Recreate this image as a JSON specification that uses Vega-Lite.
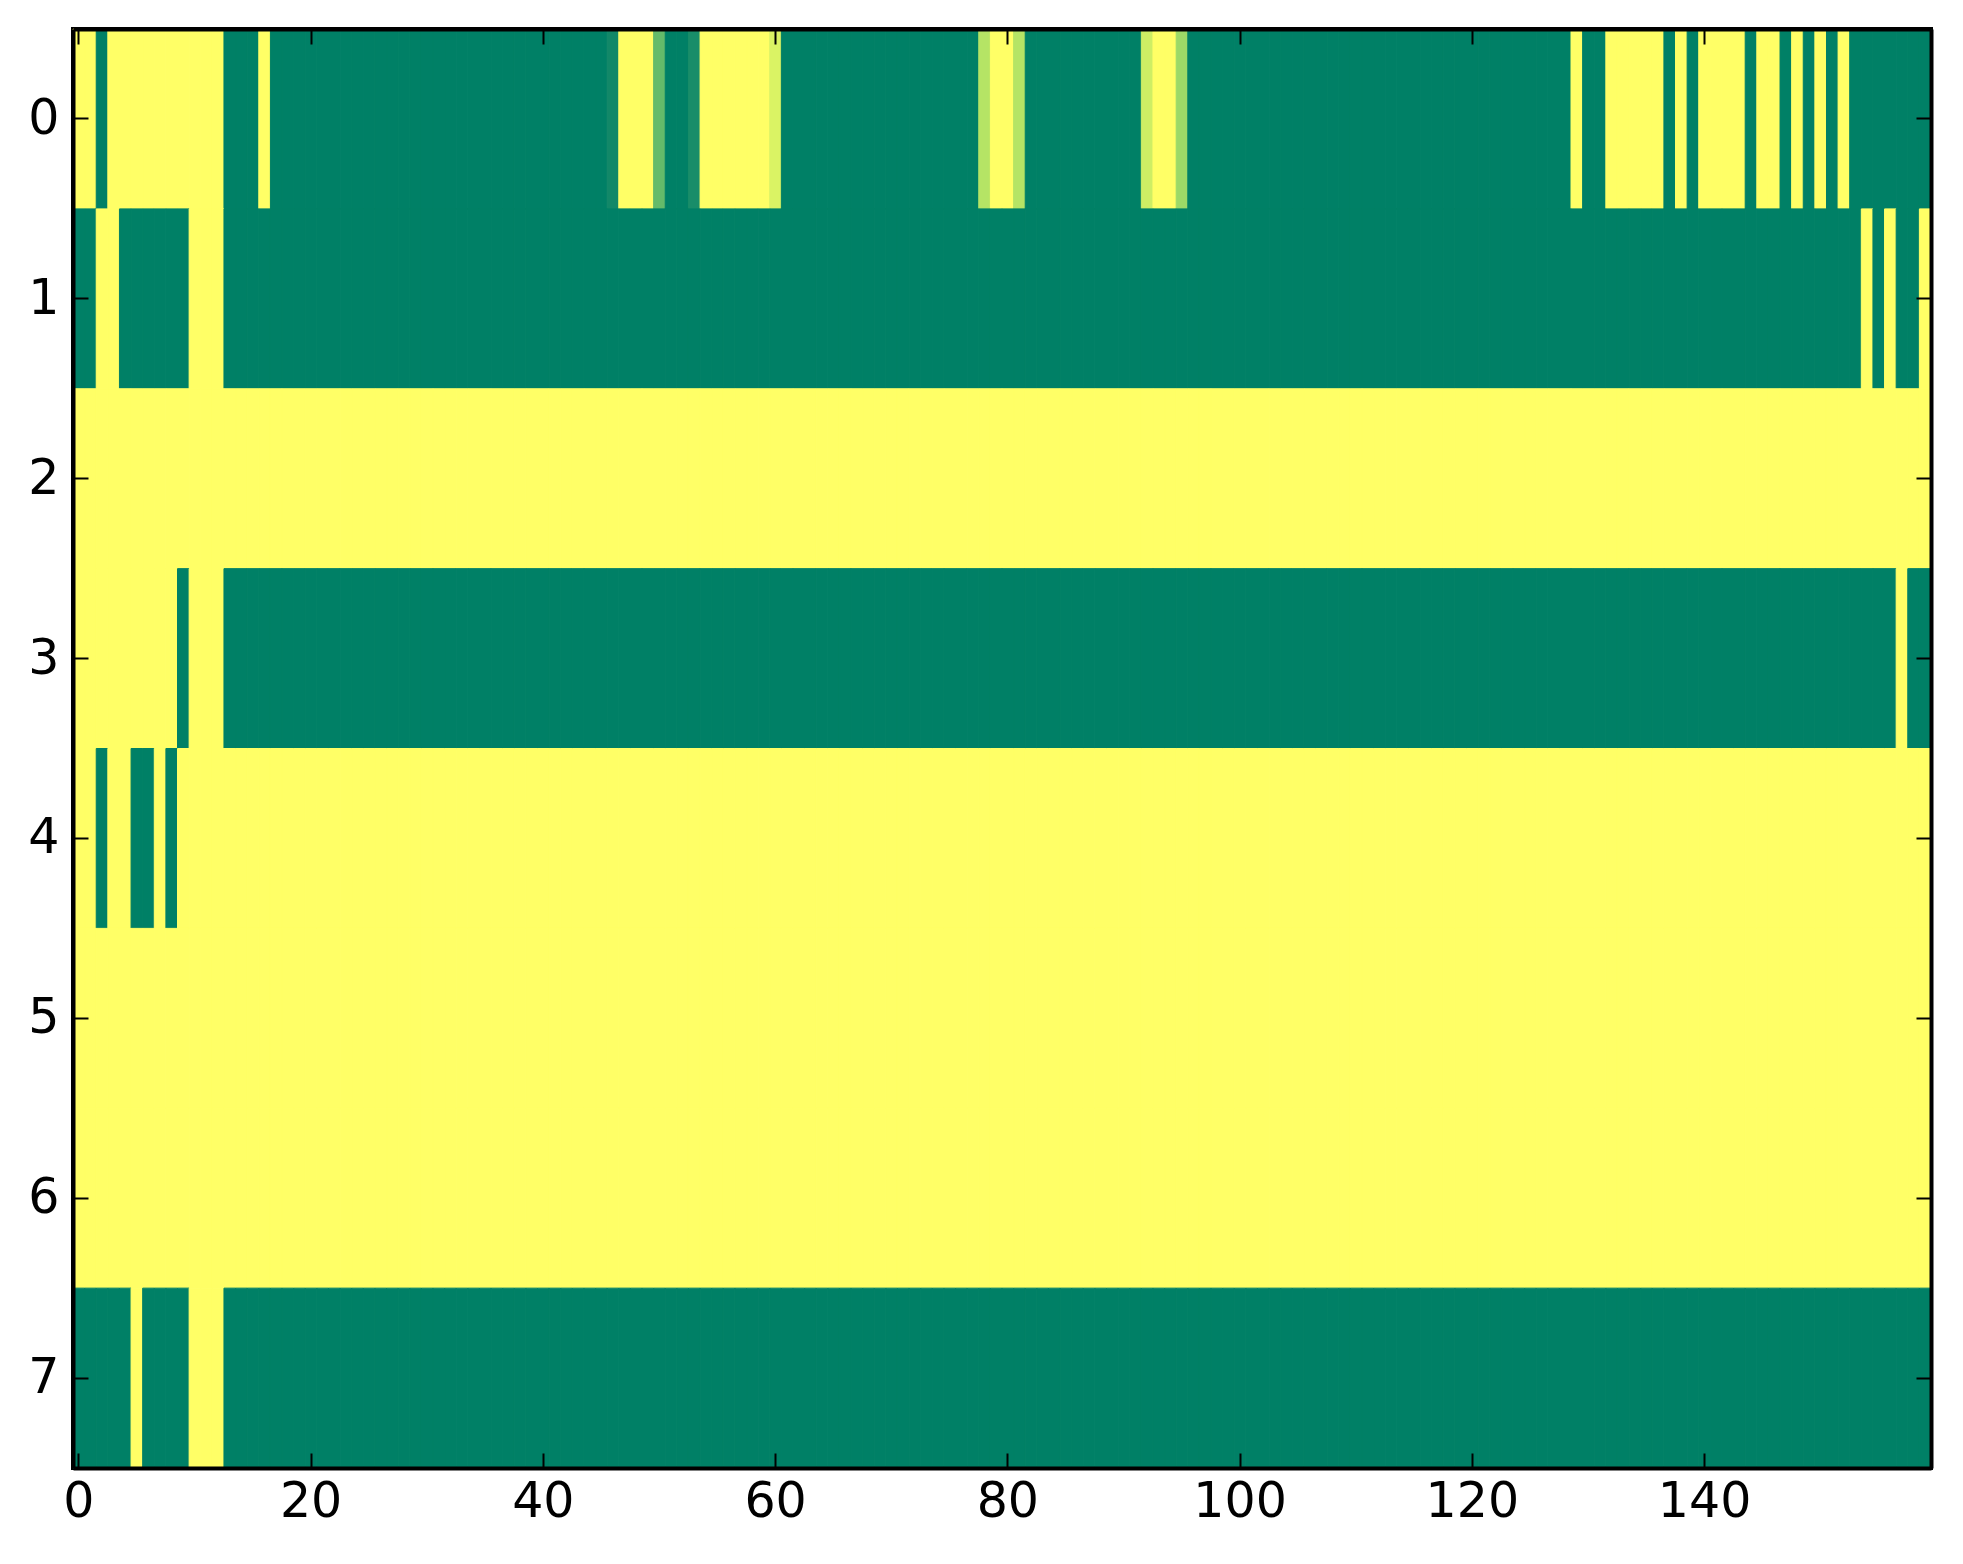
{
  "$schema": "https://vega.github.io/schema/vega-lite/v6.json",
  "width": 1858,
  "height": 1439,
  "autosize": {"type": "none"},
  "padding": {"left": 73, "top": 29, "right": 32, "bottom": 96},
  "background": "white",
  "config": {
    "view": {"stroke": "#000", "strokeWidth": 4},
    "font": "DejaVu Sans",
    "axis": {"labelFont": "DejaVu Sans", "labelFontSize": 49, "labelColor": "#000", "tickColor": "#000", "tickWidth": 2, "tickSize": -15, "domain": true, "domainColor": "#000", "domainWidth": 4, "grid": false, "title": null}
  },
  "data": {"values": [
{"r":0,"c":0,"v":1},{"r":0,"c":1,"v":1},{"r":0,"c":2,"v":0},{"r":0,"c":3,"v":1},{"r":0,"c":4,"v":1},{"r":0,"c":5,"v":1},{"r":0,"c":6,"v":1},{"r":0,"c":7,"v":1},{"r":0,"c":8,"v":1},{"r":0,"c":9,"v":1},
{"r":0,"c":10,"v":1},{"r":0,"c":11,"v":1},{"r":0,"c":12,"v":1},{"r":0,"c":13,"v":0},{"r":0,"c":14,"v":0},{"r":0,"c":15,"v":0},{"r":0,"c":16,"v":1},{"r":0,"c":17,"v":0},{"r":0,"c":18,"v":0},{"r":0,"c":19,"v":0},
{"r":0,"c":20,"v":0},{"r":0,"c":21,"v":0},{"r":0,"c":22,"v":0},{"r":0,"c":23,"v":0},{"r":0,"c":24,"v":0},{"r":0,"c":25,"v":0},{"r":0,"c":26,"v":0},{"r":0,"c":27,"v":0},{"r":0,"c":28,"v":0},{"r":0,"c":29,"v":0},
{"r":0,"c":30,"v":0},{"r":0,"c":31,"v":0},{"r":0,"c":32,"v":0},{"r":0,"c":33,"v":0},{"r":0,"c":34,"v":0},{"r":0,"c":35,"v":0},{"r":0,"c":36,"v":0},{"r":0,"c":37,"v":0},{"r":0,"c":38,"v":0},{"r":0,"c":39,"v":0},
{"r":0,"c":40,"v":0},{"r":0,"c":41,"v":0},{"r":0,"c":42,"v":0},{"r":0,"c":43,"v":0},{"r":0,"c":44,"v":0},{"r":0,"c":45,"v":0},{"r":0,"c":46,"v":0.06},{"r":0,"c":47,"v":1},{"r":0,"c":48,"v":1},{"r":0,"c":49,"v":1},
{"r":0,"c":50,"v":0.43},{"r":0,"c":51,"v":0},{"r":0,"c":52,"v":0},{"r":0,"c":53,"v":0.09},{"r":0,"c":54,"v":1},{"r":0,"c":55,"v":1},{"r":0,"c":56,"v":1},{"r":0,"c":57,"v":1},{"r":0,"c":58,"v":1},{"r":0,"c":59,"v":1},
{"r":0,"c":60,"v":0.88},{"r":0,"c":61,"v":0},{"r":0,"c":62,"v":0},{"r":0,"c":63,"v":0},{"r":0,"c":64,"v":0},{"r":0,"c":65,"v":0},{"r":0,"c":66,"v":0},{"r":0,"c":67,"v":0},{"r":0,"c":68,"v":0},{"r":0,"c":69,"v":0},
{"r":0,"c":70,"v":0},{"r":0,"c":71,"v":0},{"r":0,"c":72,"v":0},{"r":0,"c":73,"v":0},{"r":0,"c":74,"v":0},{"r":0,"c":75,"v":0},{"r":0,"c":76,"v":0},{"r":0,"c":77,"v":0},{"r":0,"c":78,"v":0.75},{"r":0,"c":79,"v":1},
{"r":0,"c":80,"v":1},{"r":0,"c":81,"v":0.75},{"r":0,"c":82,"v":0},{"r":0,"c":83,"v":0},{"r":0,"c":84,"v":0},{"r":0,"c":85,"v":0},{"r":0,"c":86,"v":0},{"r":0,"c":87,"v":0},{"r":0,"c":88,"v":0},{"r":0,"c":89,"v":0},
{"r":0,"c":90,"v":0},{"r":0,"c":91,"v":0},{"r":0,"c":92,"v":0.84},{"r":0,"c":93,"v":1},{"r":0,"c":94,"v":1},{"r":0,"c":95,"v":0.66},{"r":0,"c":96,"v":0},{"r":0,"c":97,"v":0},{"r":0,"c":98,"v":0},{"r":0,"c":99,"v":0},
{"r":0,"c":100,"v":0},{"r":0,"c":101,"v":0},{"r":0,"c":102,"v":0},{"r":0,"c":103,"v":0},{"r":0,"c":104,"v":0},{"r":0,"c":105,"v":0},{"r":0,"c":106,"v":0},{"r":0,"c":107,"v":0},{"r":0,"c":108,"v":0},{"r":0,"c":109,"v":0},
{"r":0,"c":110,"v":0},{"r":0,"c":111,"v":0},{"r":0,"c":112,"v":0},{"r":0,"c":113,"v":0},{"r":0,"c":114,"v":0},{"r":0,"c":115,"v":0},{"r":0,"c":116,"v":0},{"r":0,"c":117,"v":0},{"r":0,"c":118,"v":0},{"r":0,"c":119,"v":0},
{"r":0,"c":120,"v":0},{"r":0,"c":121,"v":0},{"r":0,"c":122,"v":0},{"r":0,"c":123,"v":0},{"r":0,"c":124,"v":0},{"r":0,"c":125,"v":0},{"r":0,"c":126,"v":0},{"r":0,"c":127,"v":0},{"r":0,"c":128,"v":0},{"r":0,"c":129,"v":1},
{"r":0,"c":130,"v":0},{"r":0,"c":131,"v":0},{"r":0,"c":132,"v":1},{"r":0,"c":133,"v":1},{"r":0,"c":134,"v":1},{"r":0,"c":135,"v":1},{"r":0,"c":136,"v":1},{"r":0,"c":137,"v":0},{"r":0,"c":138,"v":1},{"r":0,"c":139,"v":0},
{"r":0,"c":140,"v":1},{"r":0,"c":141,"v":1},{"r":0,"c":142,"v":1},{"r":0,"c":143,"v":1},{"r":0,"c":144,"v":0},{"r":0,"c":145,"v":1},{"r":0,"c":146,"v":1},{"r":0,"c":147,"v":0},{"r":0,"c":148,"v":1},{"r":0,"c":149,"v":0},
{"r":0,"c":150,"v":1},{"r":0,"c":151,"v":0},{"r":0,"c":152,"v":1},{"r":0,"c":153,"v":0},{"r":0,"c":154,"v":0},{"r":0,"c":155,"v":0},{"r":0,"c":156,"v":0},{"r":0,"c":157,"v":0},{"r":0,"c":158,"v":0},{"r":0,"c":159,"v":0},
{"r":1,"c":0,"v":0},{"r":1,"c":1,"v":0},{"r":1,"c":2,"v":1},{"r":1,"c":3,"v":1},{"r":1,"c":4,"v":0},{"r":1,"c":5,"v":0},{"r":1,"c":6,"v":0},{"r":1,"c":7,"v":0},{"r":1,"c":8,"v":0},{"r":1,"c":9,"v":0},
{"r":1,"c":10,"v":1},{"r":1,"c":11,"v":1},{"r":1,"c":12,"v":1},{"r":1,"c":13,"v":0},{"r":1,"c":14,"v":0},{"r":1,"c":15,"v":0},{"r":1,"c":16,"v":0},{"r":1,"c":17,"v":0},{"r":1,"c":18,"v":0},{"r":1,"c":19,"v":0},
{"r":1,"c":20,"v":0},{"r":1,"c":21,"v":0},{"r":1,"c":22,"v":0},{"r":1,"c":23,"v":0},{"r":1,"c":24,"v":0},{"r":1,"c":25,"v":0},{"r":1,"c":26,"v":0},{"r":1,"c":27,"v":0},{"r":1,"c":28,"v":0},{"r":1,"c":29,"v":0},
{"r":1,"c":30,"v":0},{"r":1,"c":31,"v":0},{"r":1,"c":32,"v":0},{"r":1,"c":33,"v":0},{"r":1,"c":34,"v":0},{"r":1,"c":35,"v":0},{"r":1,"c":36,"v":0},{"r":1,"c":37,"v":0},{"r":1,"c":38,"v":0},{"r":1,"c":39,"v":0},
{"r":1,"c":40,"v":0},{"r":1,"c":41,"v":0},{"r":1,"c":42,"v":0},{"r":1,"c":43,"v":0},{"r":1,"c":44,"v":0},{"r":1,"c":45,"v":0},{"r":1,"c":46,"v":0},{"r":1,"c":47,"v":0},{"r":1,"c":48,"v":0},{"r":1,"c":49,"v":0},
{"r":1,"c":50,"v":0},{"r":1,"c":51,"v":0},{"r":1,"c":52,"v":0},{"r":1,"c":53,"v":0},{"r":1,"c":54,"v":0},{"r":1,"c":55,"v":0},{"r":1,"c":56,"v":0},{"r":1,"c":57,"v":0},{"r":1,"c":58,"v":0},{"r":1,"c":59,"v":0},
{"r":1,"c":60,"v":0},{"r":1,"c":61,"v":0},{"r":1,"c":62,"v":0},{"r":1,"c":63,"v":0},{"r":1,"c":64,"v":0},{"r":1,"c":65,"v":0},{"r":1,"c":66,"v":0},{"r":1,"c":67,"v":0},{"r":1,"c":68,"v":0},{"r":1,"c":69,"v":0},
{"r":1,"c":70,"v":0},{"r":1,"c":71,"v":0},{"r":1,"c":72,"v":0},{"r":1,"c":73,"v":0},{"r":1,"c":74,"v":0},{"r":1,"c":75,"v":0},{"r":1,"c":76,"v":0},{"r":1,"c":77,"v":0},{"r":1,"c":78,"v":0},{"r":1,"c":79,"v":0},
{"r":1,"c":80,"v":0},{"r":1,"c":81,"v":0},{"r":1,"c":82,"v":0},{"r":1,"c":83,"v":0},{"r":1,"c":84,"v":0},{"r":1,"c":85,"v":0},{"r":1,"c":86,"v":0},{"r":1,"c":87,"v":0},{"r":1,"c":88,"v":0},{"r":1,"c":89,"v":0},
{"r":1,"c":90,"v":0},{"r":1,"c":91,"v":0},{"r":1,"c":92,"v":0},{"r":1,"c":93,"v":0},{"r":1,"c":94,"v":0},{"r":1,"c":95,"v":0},{"r":1,"c":96,"v":0},{"r":1,"c":97,"v":0},{"r":1,"c":98,"v":0},{"r":1,"c":99,"v":0},
{"r":1,"c":100,"v":0},{"r":1,"c":101,"v":0},{"r":1,"c":102,"v":0},{"r":1,"c":103,"v":0},{"r":1,"c":104,"v":0},{"r":1,"c":105,"v":0},{"r":1,"c":106,"v":0},{"r":1,"c":107,"v":0},{"r":1,"c":108,"v":0},{"r":1,"c":109,"v":0},
{"r":1,"c":110,"v":0},{"r":1,"c":111,"v":0},{"r":1,"c":112,"v":0},{"r":1,"c":113,"v":0},{"r":1,"c":114,"v":0},{"r":1,"c":115,"v":0},{"r":1,"c":116,"v":0},{"r":1,"c":117,"v":0},{"r":1,"c":118,"v":0},{"r":1,"c":119,"v":0},
{"r":1,"c":120,"v":0},{"r":1,"c":121,"v":0},{"r":1,"c":122,"v":0},{"r":1,"c":123,"v":0},{"r":1,"c":124,"v":0},{"r":1,"c":125,"v":0},{"r":1,"c":126,"v":0},{"r":1,"c":127,"v":0},{"r":1,"c":128,"v":0},{"r":1,"c":129,"v":0},
{"r":1,"c":130,"v":0},{"r":1,"c":131,"v":0},{"r":1,"c":132,"v":0},{"r":1,"c":133,"v":0},{"r":1,"c":134,"v":0},{"r":1,"c":135,"v":0},{"r":1,"c":136,"v":0},{"r":1,"c":137,"v":0},{"r":1,"c":138,"v":0},{"r":1,"c":139,"v":0},
{"r":1,"c":140,"v":0},{"r":1,"c":141,"v":0},{"r":1,"c":142,"v":0},{"r":1,"c":143,"v":0},{"r":1,"c":144,"v":0},{"r":1,"c":145,"v":0},{"r":1,"c":146,"v":0},{"r":1,"c":147,"v":0},{"r":1,"c":148,"v":0},{"r":1,"c":149,"v":0},
{"r":1,"c":150,"v":0},{"r":1,"c":151,"v":0},{"r":1,"c":152,"v":0},{"r":1,"c":153,"v":0},{"r":1,"c":154,"v":1},{"r":1,"c":155,"v":0},{"r":1,"c":156,"v":1},{"r":1,"c":157,"v":0},{"r":1,"c":158,"v":0},{"r":1,"c":159,"v":1},
{"r":2,"c":0,"v":1},{"r":2,"c":1,"v":1},{"r":2,"c":2,"v":1},{"r":2,"c":3,"v":1},{"r":2,"c":4,"v":1},{"r":2,"c":5,"v":1},{"r":2,"c":6,"v":1},{"r":2,"c":7,"v":1},{"r":2,"c":8,"v":1},{"r":2,"c":9,"v":1},
{"r":2,"c":10,"v":1},{"r":2,"c":11,"v":1},{"r":2,"c":12,"v":1},{"r":2,"c":13,"v":1},{"r":2,"c":14,"v":1},{"r":2,"c":15,"v":1},{"r":2,"c":16,"v":1},{"r":2,"c":17,"v":1},{"r":2,"c":18,"v":1},{"r":2,"c":19,"v":1},
{"r":2,"c":20,"v":1},{"r":2,"c":21,"v":1},{"r":2,"c":22,"v":1},{"r":2,"c":23,"v":1},{"r":2,"c":24,"v":1},{"r":2,"c":25,"v":1},{"r":2,"c":26,"v":1},{"r":2,"c":27,"v":1},{"r":2,"c":28,"v":1},{"r":2,"c":29,"v":1},
{"r":2,"c":30,"v":1},{"r":2,"c":31,"v":1},{"r":2,"c":32,"v":1},{"r":2,"c":33,"v":1},{"r":2,"c":34,"v":1},{"r":2,"c":35,"v":1},{"r":2,"c":36,"v":1},{"r":2,"c":37,"v":1},{"r":2,"c":38,"v":1},{"r":2,"c":39,"v":1},
{"r":2,"c":40,"v":1},{"r":2,"c":41,"v":1},{"r":2,"c":42,"v":1},{"r":2,"c":43,"v":1},{"r":2,"c":44,"v":1},{"r":2,"c":45,"v":1},{"r":2,"c":46,"v":1},{"r":2,"c":47,"v":1},{"r":2,"c":48,"v":1},{"r":2,"c":49,"v":1},
{"r":2,"c":50,"v":1},{"r":2,"c":51,"v":1},{"r":2,"c":52,"v":1},{"r":2,"c":53,"v":1},{"r":2,"c":54,"v":1},{"r":2,"c":55,"v":1},{"r":2,"c":56,"v":1},{"r":2,"c":57,"v":1},{"r":2,"c":58,"v":1},{"r":2,"c":59,"v":1},
{"r":2,"c":60,"v":1},{"r":2,"c":61,"v":1},{"r":2,"c":62,"v":1},{"r":2,"c":63,"v":1},{"r":2,"c":64,"v":1},{"r":2,"c":65,"v":1},{"r":2,"c":66,"v":1},{"r":2,"c":67,"v":1},{"r":2,"c":68,"v":1},{"r":2,"c":69,"v":1},
{"r":2,"c":70,"v":1},{"r":2,"c":71,"v":1},{"r":2,"c":72,"v":1},{"r":2,"c":73,"v":1},{"r":2,"c":74,"v":1},{"r":2,"c":75,"v":1},{"r":2,"c":76,"v":1},{"r":2,"c":77,"v":1},{"r":2,"c":78,"v":1},{"r":2,"c":79,"v":1},
{"r":2,"c":80,"v":1},{"r":2,"c":81,"v":1},{"r":2,"c":82,"v":1},{"r":2,"c":83,"v":1},{"r":2,"c":84,"v":1},{"r":2,"c":85,"v":1},{"r":2,"c":86,"v":1},{"r":2,"c":87,"v":1},{"r":2,"c":88,"v":1},{"r":2,"c":89,"v":1},
{"r":2,"c":90,"v":1},{"r":2,"c":91,"v":1},{"r":2,"c":92,"v":1},{"r":2,"c":93,"v":1},{"r":2,"c":94,"v":1},{"r":2,"c":95,"v":1},{"r":2,"c":96,"v":1},{"r":2,"c":97,"v":1},{"r":2,"c":98,"v":1},{"r":2,"c":99,"v":1},
{"r":2,"c":100,"v":1},{"r":2,"c":101,"v":1},{"r":2,"c":102,"v":1},{"r":2,"c":103,"v":1},{"r":2,"c":104,"v":1},{"r":2,"c":105,"v":1},{"r":2,"c":106,"v":1},{"r":2,"c":107,"v":1},{"r":2,"c":108,"v":1},{"r":2,"c":109,"v":1},
{"r":2,"c":110,"v":1},{"r":2,"c":111,"v":1},{"r":2,"c":112,"v":1},{"r":2,"c":113,"v":1},{"r":2,"c":114,"v":1},{"r":2,"c":115,"v":1},{"r":2,"c":116,"v":1},{"r":2,"c":117,"v":1},{"r":2,"c":118,"v":1},{"r":2,"c":119,"v":1},
{"r":2,"c":120,"v":1},{"r":2,"c":121,"v":1},{"r":2,"c":122,"v":1},{"r":2,"c":123,"v":1},{"r":2,"c":124,"v":1},{"r":2,"c":125,"v":1},{"r":2,"c":126,"v":1},{"r":2,"c":127,"v":1},{"r":2,"c":128,"v":1},{"r":2,"c":129,"v":1},
{"r":2,"c":130,"v":1},{"r":2,"c":131,"v":1},{"r":2,"c":132,"v":1},{"r":2,"c":133,"v":1},{"r":2,"c":134,"v":1},{"r":2,"c":135,"v":1},{"r":2,"c":136,"v":1},{"r":2,"c":137,"v":1},{"r":2,"c":138,"v":1},{"r":2,"c":139,"v":1},
{"r":2,"c":140,"v":1},{"r":2,"c":141,"v":1},{"r":2,"c":142,"v":1},{"r":2,"c":143,"v":1},{"r":2,"c":144,"v":1},{"r":2,"c":145,"v":1},{"r":2,"c":146,"v":1},{"r":2,"c":147,"v":1},{"r":2,"c":148,"v":1},{"r":2,"c":149,"v":1},
{"r":2,"c":150,"v":1},{"r":2,"c":151,"v":1},{"r":2,"c":152,"v":1},{"r":2,"c":153,"v":1},{"r":2,"c":154,"v":1},{"r":2,"c":155,"v":1},{"r":2,"c":156,"v":1},{"r":2,"c":157,"v":1},{"r":2,"c":158,"v":1},{"r":2,"c":159,"v":1},
{"r":3,"c":0,"v":1},{"r":3,"c":1,"v":1},{"r":3,"c":2,"v":1},{"r":3,"c":3,"v":1},{"r":3,"c":4,"v":1},{"r":3,"c":5,"v":1},{"r":3,"c":6,"v":1},{"r":3,"c":7,"v":1},{"r":3,"c":8,"v":1},{"r":3,"c":9,"v":0},
{"r":3,"c":10,"v":1},{"r":3,"c":11,"v":1},{"r":3,"c":12,"v":1},{"r":3,"c":13,"v":0},{"r":3,"c":14,"v":0},{"r":3,"c":15,"v":0},{"r":3,"c":16,"v":0},{"r":3,"c":17,"v":0},{"r":3,"c":18,"v":0},{"r":3,"c":19,"v":0},
{"r":3,"c":20,"v":0},{"r":3,"c":21,"v":0},{"r":3,"c":22,"v":0},{"r":3,"c":23,"v":0},{"r":3,"c":24,"v":0},{"r":3,"c":25,"v":0},{"r":3,"c":26,"v":0},{"r":3,"c":27,"v":0},{"r":3,"c":28,"v":0},{"r":3,"c":29,"v":0},
{"r":3,"c":30,"v":0},{"r":3,"c":31,"v":0},{"r":3,"c":32,"v":0},{"r":3,"c":33,"v":0},{"r":3,"c":34,"v":0},{"r":3,"c":35,"v":0},{"r":3,"c":36,"v":0},{"r":3,"c":37,"v":0},{"r":3,"c":38,"v":0},{"r":3,"c":39,"v":0},
{"r":3,"c":40,"v":0},{"r":3,"c":41,"v":0},{"r":3,"c":42,"v":0},{"r":3,"c":43,"v":0},{"r":3,"c":44,"v":0},{"r":3,"c":45,"v":0},{"r":3,"c":46,"v":0},{"r":3,"c":47,"v":0},{"r":3,"c":48,"v":0},{"r":3,"c":49,"v":0},
{"r":3,"c":50,"v":0},{"r":3,"c":51,"v":0},{"r":3,"c":52,"v":0},{"r":3,"c":53,"v":0},{"r":3,"c":54,"v":0},{"r":3,"c":55,"v":0},{"r":3,"c":56,"v":0},{"r":3,"c":57,"v":0},{"r":3,"c":58,"v":0},{"r":3,"c":59,"v":0},
{"r":3,"c":60,"v":0},{"r":3,"c":61,"v":0},{"r":3,"c":62,"v":0},{"r":3,"c":63,"v":0},{"r":3,"c":64,"v":0},{"r":3,"c":65,"v":0},{"r":3,"c":66,"v":0},{"r":3,"c":67,"v":0},{"r":3,"c":68,"v":0},{"r":3,"c":69,"v":0},
{"r":3,"c":70,"v":0},{"r":3,"c":71,"v":0},{"r":3,"c":72,"v":0},{"r":3,"c":73,"v":0},{"r":3,"c":74,"v":0},{"r":3,"c":75,"v":0},{"r":3,"c":76,"v":0},{"r":3,"c":77,"v":0},{"r":3,"c":78,"v":0},{"r":3,"c":79,"v":0},
{"r":3,"c":80,"v":0},{"r":3,"c":81,"v":0},{"r":3,"c":82,"v":0},{"r":3,"c":83,"v":0},{"r":3,"c":84,"v":0},{"r":3,"c":85,"v":0},{"r":3,"c":86,"v":0},{"r":3,"c":87,"v":0},{"r":3,"c":88,"v":0},{"r":3,"c":89,"v":0},
{"r":3,"c":90,"v":0},{"r":3,"c":91,"v":0},{"r":3,"c":92,"v":0},{"r":3,"c":93,"v":0},{"r":3,"c":94,"v":0},{"r":3,"c":95,"v":0},{"r":3,"c":96,"v":0},{"r":3,"c":97,"v":0},{"r":3,"c":98,"v":0},{"r":3,"c":99,"v":0},
{"r":3,"c":100,"v":0},{"r":3,"c":101,"v":0},{"r":3,"c":102,"v":0},{"r":3,"c":103,"v":0},{"r":3,"c":104,"v":0},{"r":3,"c":105,"v":0},{"r":3,"c":106,"v":0},{"r":3,"c":107,"v":0},{"r":3,"c":108,"v":0},{"r":3,"c":109,"v":0},
{"r":3,"c":110,"v":0},{"r":3,"c":111,"v":0},{"r":3,"c":112,"v":0},{"r":3,"c":113,"v":0},{"r":3,"c":114,"v":0},{"r":3,"c":115,"v":0},{"r":3,"c":116,"v":0},{"r":3,"c":117,"v":0},{"r":3,"c":118,"v":0},{"r":3,"c":119,"v":0},
{"r":3,"c":120,"v":0},{"r":3,"c":121,"v":0},{"r":3,"c":122,"v":0},{"r":3,"c":123,"v":0},{"r":3,"c":124,"v":0},{"r":3,"c":125,"v":0},{"r":3,"c":126,"v":0},{"r":3,"c":127,"v":0},{"r":3,"c":128,"v":0},{"r":3,"c":129,"v":0},
{"r":3,"c":130,"v":0},{"r":3,"c":131,"v":0},{"r":3,"c":132,"v":0},{"r":3,"c":133,"v":0},{"r":3,"c":134,"v":0},{"r":3,"c":135,"v":0},{"r":3,"c":136,"v":0},{"r":3,"c":137,"v":0},{"r":3,"c":138,"v":0},{"r":3,"c":139,"v":0},
{"r":3,"c":140,"v":0},{"r":3,"c":141,"v":0},{"r":3,"c":142,"v":0},{"r":3,"c":143,"v":0},{"r":3,"c":144,"v":0},{"r":3,"c":145,"v":0},{"r":3,"c":146,"v":0},{"r":3,"c":147,"v":0},{"r":3,"c":148,"v":0},{"r":3,"c":149,"v":0},
{"r":3,"c":150,"v":0},{"r":3,"c":151,"v":0},{"r":3,"c":152,"v":0},{"r":3,"c":153,"v":0},{"r":3,"c":154,"v":0},{"r":3,"c":155,"v":0},{"r":3,"c":156,"v":0},{"r":3,"c":157,"v":1},{"r":3,"c":158,"v":0},{"r":3,"c":159,"v":0},
{"r":4,"c":0,"v":1},{"r":4,"c":1,"v":1},{"r":4,"c":2,"v":0},{"r":4,"c":3,"v":1},{"r":4,"c":4,"v":1},{"r":4,"c":5,"v":0},{"r":4,"c":6,"v":0},{"r":4,"c":7,"v":1},{"r":4,"c":8,"v":0},{"r":4,"c":9,"v":1},
{"r":4,"c":10,"v":1},{"r":4,"c":11,"v":1},{"r":4,"c":12,"v":1},{"r":4,"c":13,"v":1},{"r":4,"c":14,"v":1},{"r":4,"c":15,"v":1},{"r":4,"c":16,"v":1},{"r":4,"c":17,"v":1},{"r":4,"c":18,"v":1},{"r":4,"c":19,"v":1},
{"r":4,"c":20,"v":1},{"r":4,"c":21,"v":1},{"r":4,"c":22,"v":1},{"r":4,"c":23,"v":1},{"r":4,"c":24,"v":1},{"r":4,"c":25,"v":1},{"r":4,"c":26,"v":1},{"r":4,"c":27,"v":1},{"r":4,"c":28,"v":1},{"r":4,"c":29,"v":1},
{"r":4,"c":30,"v":1},{"r":4,"c":31,"v":1},{"r":4,"c":32,"v":1},{"r":4,"c":33,"v":1},{"r":4,"c":34,"v":1},{"r":4,"c":35,"v":1},{"r":4,"c":36,"v":1},{"r":4,"c":37,"v":1},{"r":4,"c":38,"v":1},{"r":4,"c":39,"v":1},
{"r":4,"c":40,"v":1},{"r":4,"c":41,"v":1},{"r":4,"c":42,"v":1},{"r":4,"c":43,"v":1},{"r":4,"c":44,"v":1},{"r":4,"c":45,"v":1},{"r":4,"c":46,"v":1},{"r":4,"c":47,"v":1},{"r":4,"c":48,"v":1},{"r":4,"c":49,"v":1},
{"r":4,"c":50,"v":1},{"r":4,"c":51,"v":1},{"r":4,"c":52,"v":1},{"r":4,"c":53,"v":1},{"r":4,"c":54,"v":1},{"r":4,"c":55,"v":1},{"r":4,"c":56,"v":1},{"r":4,"c":57,"v":1},{"r":4,"c":58,"v":1},{"r":4,"c":59,"v":1},
{"r":4,"c":60,"v":1},{"r":4,"c":61,"v":1},{"r":4,"c":62,"v":1},{"r":4,"c":63,"v":1},{"r":4,"c":64,"v":1},{"r":4,"c":65,"v":1},{"r":4,"c":66,"v":1},{"r":4,"c":67,"v":1},{"r":4,"c":68,"v":1},{"r":4,"c":69,"v":1},
{"r":4,"c":70,"v":1},{"r":4,"c":71,"v":1},{"r":4,"c":72,"v":1},{"r":4,"c":73,"v":1},{"r":4,"c":74,"v":1},{"r":4,"c":75,"v":1},{"r":4,"c":76,"v":1},{"r":4,"c":77,"v":1},{"r":4,"c":78,"v":1},{"r":4,"c":79,"v":1},
{"r":4,"c":80,"v":1},{"r":4,"c":81,"v":1},{"r":4,"c":82,"v":1},{"r":4,"c":83,"v":1},{"r":4,"c":84,"v":1},{"r":4,"c":85,"v":1},{"r":4,"c":86,"v":1},{"r":4,"c":87,"v":1},{"r":4,"c":88,"v":1},{"r":4,"c":89,"v":1},
{"r":4,"c":90,"v":1},{"r":4,"c":91,"v":1},{"r":4,"c":92,"v":1},{"r":4,"c":93,"v":1},{"r":4,"c":94,"v":1},{"r":4,"c":95,"v":1},{"r":4,"c":96,"v":1},{"r":4,"c":97,"v":1},{"r":4,"c":98,"v":1},{"r":4,"c":99,"v":1},
{"r":4,"c":100,"v":1},{"r":4,"c":101,"v":1},{"r":4,"c":102,"v":1},{"r":4,"c":103,"v":1},{"r":4,"c":104,"v":1},{"r":4,"c":105,"v":1},{"r":4,"c":106,"v":1},{"r":4,"c":107,"v":1},{"r":4,"c":108,"v":1},{"r":4,"c":109,"v":1},
{"r":4,"c":110,"v":1},{"r":4,"c":111,"v":1},{"r":4,"c":112,"v":1},{"r":4,"c":113,"v":1},{"r":4,"c":114,"v":1},{"r":4,"c":115,"v":1},{"r":4,"c":116,"v":1},{"r":4,"c":117,"v":1},{"r":4,"c":118,"v":1},{"r":4,"c":119,"v":1},
{"r":4,"c":120,"v":1},{"r":4,"c":121,"v":1},{"r":4,"c":122,"v":1},{"r":4,"c":123,"v":1},{"r":4,"c":124,"v":1},{"r":4,"c":125,"v":1},{"r":4,"c":126,"v":1},{"r":4,"c":127,"v":1},{"r":4,"c":128,"v":1},{"r":4,"c":129,"v":1},
{"r":4,"c":130,"v":1},{"r":4,"c":131,"v":1},{"r":4,"c":132,"v":1},{"r":4,"c":133,"v":1},{"r":4,"c":134,"v":1},{"r":4,"c":135,"v":1},{"r":4,"c":136,"v":1},{"r":4,"c":137,"v":1},{"r":4,"c":138,"v":1},{"r":4,"c":139,"v":1},
{"r":4,"c":140,"v":1},{"r":4,"c":141,"v":1},{"r":4,"c":142,"v":1},{"r":4,"c":143,"v":1},{"r":4,"c":144,"v":1},{"r":4,"c":145,"v":1},{"r":4,"c":146,"v":1},{"r":4,"c":147,"v":1},{"r":4,"c":148,"v":1},{"r":4,"c":149,"v":1},
{"r":4,"c":150,"v":1},{"r":4,"c":151,"v":1},{"r":4,"c":152,"v":1},{"r":4,"c":153,"v":1},{"r":4,"c":154,"v":1},{"r":4,"c":155,"v":1},{"r":4,"c":156,"v":1},{"r":4,"c":157,"v":1},{"r":4,"c":158,"v":1},{"r":4,"c":159,"v":1},
{"r":5,"c":0,"v":1},{"r":5,"c":1,"v":1},{"r":5,"c":2,"v":1},{"r":5,"c":3,"v":1},{"r":5,"c":4,"v":1},{"r":5,"c":5,"v":1},{"r":5,"c":6,"v":1},{"r":5,"c":7,"v":1},{"r":5,"c":8,"v":1},{"r":5,"c":9,"v":1},
{"r":5,"c":10,"v":1},{"r":5,"c":11,"v":1},{"r":5,"c":12,"v":1},{"r":5,"c":13,"v":1},{"r":5,"c":14,"v":1},{"r":5,"c":15,"v":1},{"r":5,"c":16,"v":1},{"r":5,"c":17,"v":1},{"r":5,"c":18,"v":1},{"r":5,"c":19,"v":1},
{"r":5,"c":20,"v":1},{"r":5,"c":21,"v":1},{"r":5,"c":22,"v":1},{"r":5,"c":23,"v":1},{"r":5,"c":24,"v":1},{"r":5,"c":25,"v":1},{"r":5,"c":26,"v":1},{"r":5,"c":27,"v":1},{"r":5,"c":28,"v":1},{"r":5,"c":29,"v":1},
{"r":5,"c":30,"v":1},{"r":5,"c":31,"v":1},{"r":5,"c":32,"v":1},{"r":5,"c":33,"v":1},{"r":5,"c":34,"v":1},{"r":5,"c":35,"v":1},{"r":5,"c":36,"v":1},{"r":5,"c":37,"v":1},{"r":5,"c":38,"v":1},{"r":5,"c":39,"v":1},
{"r":5,"c":40,"v":1},{"r":5,"c":41,"v":1},{"r":5,"c":42,"v":1},{"r":5,"c":43,"v":1},{"r":5,"c":44,"v":1},{"r":5,"c":45,"v":1},{"r":5,"c":46,"v":1},{"r":5,"c":47,"v":1},{"r":5,"c":48,"v":1},{"r":5,"c":49,"v":1},
{"r":5,"c":50,"v":1},{"r":5,"c":51,"v":1},{"r":5,"c":52,"v":1},{"r":5,"c":53,"v":1},{"r":5,"c":54,"v":1},{"r":5,"c":55,"v":1},{"r":5,"c":56,"v":1},{"r":5,"c":57,"v":1},{"r":5,"c":58,"v":1},{"r":5,"c":59,"v":1},
{"r":5,"c":60,"v":1},{"r":5,"c":61,"v":1},{"r":5,"c":62,"v":1},{"r":5,"c":63,"v":1},{"r":5,"c":64,"v":1},{"r":5,"c":65,"v":1},{"r":5,"c":66,"v":1},{"r":5,"c":67,"v":1},{"r":5,"c":68,"v":1},{"r":5,"c":69,"v":1},
{"r":5,"c":70,"v":1},{"r":5,"c":71,"v":1},{"r":5,"c":72,"v":1},{"r":5,"c":73,"v":1},{"r":5,"c":74,"v":1},{"r":5,"c":75,"v":1},{"r":5,"c":76,"v":1},{"r":5,"c":77,"v":1},{"r":5,"c":78,"v":1},{"r":5,"c":79,"v":1},
{"r":5,"c":80,"v":1},{"r":5,"c":81,"v":1},{"r":5,"c":82,"v":1},{"r":5,"c":83,"v":1},{"r":5,"c":84,"v":1},{"r":5,"c":85,"v":1},{"r":5,"c":86,"v":1},{"r":5,"c":87,"v":1},{"r":5,"c":88,"v":1},{"r":5,"c":89,"v":1},
{"r":5,"c":90,"v":1},{"r":5,"c":91,"v":1},{"r":5,"c":92,"v":1},{"r":5,"c":93,"v":1},{"r":5,"c":94,"v":1},{"r":5,"c":95,"v":1},{"r":5,"c":96,"v":1},{"r":5,"c":97,"v":1},{"r":5,"c":98,"v":1},{"r":5,"c":99,"v":1},
{"r":5,"c":100,"v":1},{"r":5,"c":101,"v":1},{"r":5,"c":102,"v":1},{"r":5,"c":103,"v":1},{"r":5,"c":104,"v":1},{"r":5,"c":105,"v":1},{"r":5,"c":106,"v":1},{"r":5,"c":107,"v":1},{"r":5,"c":108,"v":1},{"r":5,"c":109,"v":1},
{"r":5,"c":110,"v":1},{"r":5,"c":111,"v":1},{"r":5,"c":112,"v":1},{"r":5,"c":113,"v":1},{"r":5,"c":114,"v":1},{"r":5,"c":115,"v":1},{"r":5,"c":116,"v":1},{"r":5,"c":117,"v":1},{"r":5,"c":118,"v":1},{"r":5,"c":119,"v":1},
{"r":5,"c":120,"v":1},{"r":5,"c":121,"v":1},{"r":5,"c":122,"v":1},{"r":5,"c":123,"v":1},{"r":5,"c":124,"v":1},{"r":5,"c":125,"v":1},{"r":5,"c":126,"v":1},{"r":5,"c":127,"v":1},{"r":5,"c":128,"v":1},{"r":5,"c":129,"v":1},
{"r":5,"c":130,"v":1},{"r":5,"c":131,"v":1},{"r":5,"c":132,"v":1},{"r":5,"c":133,"v":1},{"r":5,"c":134,"v":1},{"r":5,"c":135,"v":1},{"r":5,"c":136,"v":1},{"r":5,"c":137,"v":1},{"r":5,"c":138,"v":1},{"r":5,"c":139,"v":1},
{"r":5,"c":140,"v":1},{"r":5,"c":141,"v":1},{"r":5,"c":142,"v":1},{"r":5,"c":143,"v":1},{"r":5,"c":144,"v":1},{"r":5,"c":145,"v":1},{"r":5,"c":146,"v":1},{"r":5,"c":147,"v":1},{"r":5,"c":148,"v":1},{"r":5,"c":149,"v":1},
{"r":5,"c":150,"v":1},{"r":5,"c":151,"v":1},{"r":5,"c":152,"v":1},{"r":5,"c":153,"v":1},{"r":5,"c":154,"v":1},{"r":5,"c":155,"v":1},{"r":5,"c":156,"v":1},{"r":5,"c":157,"v":1},{"r":5,"c":158,"v":1},{"r":5,"c":159,"v":1},
{"r":6,"c":0,"v":1},{"r":6,"c":1,"v":1},{"r":6,"c":2,"v":1},{"r":6,"c":3,"v":1},{"r":6,"c":4,"v":1},{"r":6,"c":5,"v":1},{"r":6,"c":6,"v":1},{"r":6,"c":7,"v":1},{"r":6,"c":8,"v":1},{"r":6,"c":9,"v":1},
{"r":6,"c":10,"v":1},{"r":6,"c":11,"v":1},{"r":6,"c":12,"v":1},{"r":6,"c":13,"v":1},{"r":6,"c":14,"v":1},{"r":6,"c":15,"v":1},{"r":6,"c":16,"v":1},{"r":6,"c":17,"v":1},{"r":6,"c":18,"v":1},{"r":6,"c":19,"v":1},
{"r":6,"c":20,"v":1},{"r":6,"c":21,"v":1},{"r":6,"c":22,"v":1},{"r":6,"c":23,"v":1},{"r":6,"c":24,"v":1},{"r":6,"c":25,"v":1},{"r":6,"c":26,"v":1},{"r":6,"c":27,"v":1},{"r":6,"c":28,"v":1},{"r":6,"c":29,"v":1},
{"r":6,"c":30,"v":1},{"r":6,"c":31,"v":1},{"r":6,"c":32,"v":1},{"r":6,"c":33,"v":1},{"r":6,"c":34,"v":1},{"r":6,"c":35,"v":1},{"r":6,"c":36,"v":1},{"r":6,"c":37,"v":1},{"r":6,"c":38,"v":1},{"r":6,"c":39,"v":1},
{"r":6,"c":40,"v":1},{"r":6,"c":41,"v":1},{"r":6,"c":42,"v":1},{"r":6,"c":43,"v":1},{"r":6,"c":44,"v":1},{"r":6,"c":45,"v":1},{"r":6,"c":46,"v":1},{"r":6,"c":47,"v":1},{"r":6,"c":48,"v":1},{"r":6,"c":49,"v":1},
{"r":6,"c":50,"v":1},{"r":6,"c":51,"v":1},{"r":6,"c":52,"v":1},{"r":6,"c":53,"v":1},{"r":6,"c":54,"v":1},{"r":6,"c":55,"v":1},{"r":6,"c":56,"v":1},{"r":6,"c":57,"v":1},{"r":6,"c":58,"v":1},{"r":6,"c":59,"v":1},
{"r":6,"c":60,"v":1},{"r":6,"c":61,"v":1},{"r":6,"c":62,"v":1},{"r":6,"c":63,"v":1},{"r":6,"c":64,"v":1},{"r":6,"c":65,"v":1},{"r":6,"c":66,"v":1},{"r":6,"c":67,"v":1},{"r":6,"c":68,"v":1},{"r":6,"c":69,"v":1},
{"r":6,"c":70,"v":1},{"r":6,"c":71,"v":1},{"r":6,"c":72,"v":1},{"r":6,"c":73,"v":1},{"r":6,"c":74,"v":1},{"r":6,"c":75,"v":1},{"r":6,"c":76,"v":1},{"r":6,"c":77,"v":1},{"r":6,"c":78,"v":1},{"r":6,"c":79,"v":1},
{"r":6,"c":80,"v":1},{"r":6,"c":81,"v":1},{"r":6,"c":82,"v":1},{"r":6,"c":83,"v":1},{"r":6,"c":84,"v":1},{"r":6,"c":85,"v":1},{"r":6,"c":86,"v":1},{"r":6,"c":87,"v":1},{"r":6,"c":88,"v":1},{"r":6,"c":89,"v":1},
{"r":6,"c":90,"v":1},{"r":6,"c":91,"v":1},{"r":6,"c":92,"v":1},{"r":6,"c":93,"v":1},{"r":6,"c":94,"v":1},{"r":6,"c":95,"v":1},{"r":6,"c":96,"v":1},{"r":6,"c":97,"v":1},{"r":6,"c":98,"v":1},{"r":6,"c":99,"v":1},
{"r":6,"c":100,"v":1},{"r":6,"c":101,"v":1},{"r":6,"c":102,"v":1},{"r":6,"c":103,"v":1},{"r":6,"c":104,"v":1},{"r":6,"c":105,"v":1},{"r":6,"c":106,"v":1},{"r":6,"c":107,"v":1},{"r":6,"c":108,"v":1},{"r":6,"c":109,"v":1},
{"r":6,"c":110,"v":1},{"r":6,"c":111,"v":1},{"r":6,"c":112,"v":1},{"r":6,"c":113,"v":1},{"r":6,"c":114,"v":1},{"r":6,"c":115,"v":1},{"r":6,"c":116,"v":1},{"r":6,"c":117,"v":1},{"r":6,"c":118,"v":1},{"r":6,"c":119,"v":1},
{"r":6,"c":120,"v":1},{"r":6,"c":121,"v":1},{"r":6,"c":122,"v":1},{"r":6,"c":123,"v":1},{"r":6,"c":124,"v":1},{"r":6,"c":125,"v":1},{"r":6,"c":126,"v":1},{"r":6,"c":127,"v":1},{"r":6,"c":128,"v":1},{"r":6,"c":129,"v":1},
{"r":6,"c":130,"v":1},{"r":6,"c":131,"v":1},{"r":6,"c":132,"v":1},{"r":6,"c":133,"v":1},{"r":6,"c":134,"v":1},{"r":6,"c":135,"v":1},{"r":6,"c":136,"v":1},{"r":6,"c":137,"v":1},{"r":6,"c":138,"v":1},{"r":6,"c":139,"v":1},
{"r":6,"c":140,"v":1},{"r":6,"c":141,"v":1},{"r":6,"c":142,"v":1},{"r":6,"c":143,"v":1},{"r":6,"c":144,"v":1},{"r":6,"c":145,"v":1},{"r":6,"c":146,"v":1},{"r":6,"c":147,"v":1},{"r":6,"c":148,"v":1},{"r":6,"c":149,"v":1},
{"r":6,"c":150,"v":1},{"r":6,"c":151,"v":1},{"r":6,"c":152,"v":1},{"r":6,"c":153,"v":1},{"r":6,"c":154,"v":1},{"r":6,"c":155,"v":1},{"r":6,"c":156,"v":1},{"r":6,"c":157,"v":1},{"r":6,"c":158,"v":1},{"r":6,"c":159,"v":1},
{"r":7,"c":0,"v":0},{"r":7,"c":1,"v":0},{"r":7,"c":2,"v":0},{"r":7,"c":3,"v":0},{"r":7,"c":4,"v":0},{"r":7,"c":5,"v":1},{"r":7,"c":6,"v":0},{"r":7,"c":7,"v":0},{"r":7,"c":8,"v":0},{"r":7,"c":9,"v":0},
{"r":7,"c":10,"v":1},{"r":7,"c":11,"v":1},{"r":7,"c":12,"v":1},{"r":7,"c":13,"v":0},{"r":7,"c":14,"v":0},{"r":7,"c":15,"v":0},{"r":7,"c":16,"v":0},{"r":7,"c":17,"v":0},{"r":7,"c":18,"v":0},{"r":7,"c":19,"v":0},
{"r":7,"c":20,"v":0},{"r":7,"c":21,"v":0},{"r":7,"c":22,"v":0},{"r":7,"c":23,"v":0},{"r":7,"c":24,"v":0},{"r":7,"c":25,"v":0},{"r":7,"c":26,"v":0},{"r":7,"c":27,"v":0},{"r":7,"c":28,"v":0},{"r":7,"c":29,"v":0},
{"r":7,"c":30,"v":0},{"r":7,"c":31,"v":0},{"r":7,"c":32,"v":0},{"r":7,"c":33,"v":0},{"r":7,"c":34,"v":0},{"r":7,"c":35,"v":0},{"r":7,"c":36,"v":0},{"r":7,"c":37,"v":0},{"r":7,"c":38,"v":0},{"r":7,"c":39,"v":0},
{"r":7,"c":40,"v":0},{"r":7,"c":41,"v":0},{"r":7,"c":42,"v":0},{"r":7,"c":43,"v":0},{"r":7,"c":44,"v":0},{"r":7,"c":45,"v":0},{"r":7,"c":46,"v":0},{"r":7,"c":47,"v":0},{"r":7,"c":48,"v":0},{"r":7,"c":49,"v":0},
{"r":7,"c":50,"v":0},{"r":7,"c":51,"v":0},{"r":7,"c":52,"v":0},{"r":7,"c":53,"v":0},{"r":7,"c":54,"v":0},{"r":7,"c":55,"v":0},{"r":7,"c":56,"v":0},{"r":7,"c":57,"v":0},{"r":7,"c":58,"v":0},{"r":7,"c":59,"v":0},
{"r":7,"c":60,"v":0},{"r":7,"c":61,"v":0},{"r":7,"c":62,"v":0},{"r":7,"c":63,"v":0},{"r":7,"c":64,"v":0},{"r":7,"c":65,"v":0},{"r":7,"c":66,"v":0},{"r":7,"c":67,"v":0},{"r":7,"c":68,"v":0},{"r":7,"c":69,"v":0},
{"r":7,"c":70,"v":0},{"r":7,"c":71,"v":0},{"r":7,"c":72,"v":0},{"r":7,"c":73,"v":0},{"r":7,"c":74,"v":0},{"r":7,"c":75,"v":0},{"r":7,"c":76,"v":0},{"r":7,"c":77,"v":0},{"r":7,"c":78,"v":0},{"r":7,"c":79,"v":0},
{"r":7,"c":80,"v":0},{"r":7,"c":81,"v":0},{"r":7,"c":82,"v":0},{"r":7,"c":83,"v":0},{"r":7,"c":84,"v":0},{"r":7,"c":85,"v":0},{"r":7,"c":86,"v":0},{"r":7,"c":87,"v":0},{"r":7,"c":88,"v":0},{"r":7,"c":89,"v":0},
{"r":7,"c":90,"v":0},{"r":7,"c":91,"v":0},{"r":7,"c":92,"v":0},{"r":7,"c":93,"v":0},{"r":7,"c":94,"v":0},{"r":7,"c":95,"v":0},{"r":7,"c":96,"v":0},{"r":7,"c":97,"v":0},{"r":7,"c":98,"v":0},{"r":7,"c":99,"v":0},
{"r":7,"c":100,"v":0},{"r":7,"c":101,"v":0},{"r":7,"c":102,"v":0},{"r":7,"c":103,"v":0},{"r":7,"c":104,"v":0},{"r":7,"c":105,"v":0},{"r":7,"c":106,"v":0},{"r":7,"c":107,"v":0},{"r":7,"c":108,"v":0},{"r":7,"c":109,"v":0},
{"r":7,"c":110,"v":0},{"r":7,"c":111,"v":0},{"r":7,"c":112,"v":0},{"r":7,"c":113,"v":0},{"r":7,"c":114,"v":0},{"r":7,"c":115,"v":0},{"r":7,"c":116,"v":0},{"r":7,"c":117,"v":0},{"r":7,"c":118,"v":0},{"r":7,"c":119,"v":0},
{"r":7,"c":120,"v":0},{"r":7,"c":121,"v":0},{"r":7,"c":122,"v":0},{"r":7,"c":123,"v":0},{"r":7,"c":124,"v":0},{"r":7,"c":125,"v":0},{"r":7,"c":126,"v":0},{"r":7,"c":127,"v":0},{"r":7,"c":128,"v":0},{"r":7,"c":129,"v":0},
{"r":7,"c":130,"v":0},{"r":7,"c":131,"v":0},{"r":7,"c":132,"v":0},{"r":7,"c":133,"v":0},{"r":7,"c":134,"v":0},{"r":7,"c":135,"v":0},{"r":7,"c":136,"v":0},{"r":7,"c":137,"v":0},{"r":7,"c":138,"v":0},{"r":7,"c":139,"v":0},
{"r":7,"c":140,"v":0},{"r":7,"c":141,"v":0},{"r":7,"c":142,"v":0},{"r":7,"c":143,"v":0},{"r":7,"c":144,"v":0},{"r":7,"c":145,"v":0},{"r":7,"c":146,"v":0},{"r":7,"c":147,"v":0},{"r":7,"c":148,"v":0},{"r":7,"c":149,"v":0},
{"r":7,"c":150,"v":0},{"r":7,"c":151,"v":0},{"r":7,"c":152,"v":0},{"r":7,"c":153,"v":0},{"r":7,"c":154,"v":0},{"r":7,"c":155,"v":0},{"r":7,"c":156,"v":0},{"r":7,"c":157,"v":0},{"r":7,"c":158,"v":0},{"r":7,"c":159,"v":0}
  ]},
  "layer": [
    {
      "mark": {"type": "rect", "strokeWidth": 1},
      "encoding": {
        "x": {"field": "c", "type": "ordinal", "axis": {"orient": "bottom", "values": [0, 20, 40, 60, 80, 100, 120, 140], "labelAngle": 0, "labelPadding": 24}},
        "y": {"field": "r", "type": "ordinal", "axis": {"orient": "left", "labelPadding": 29}},
        "fill": {"field": "v", "type": "quantitative", "scale": {"domain": [0, 1], "range": ["#008066", "#ffff66"]}, "legend": null},
        "stroke": {"field": "v", "type": "quantitative", "scale": {"domain": [0, 1], "range": ["#008066", "#ffff66"]}, "legend": null}
      }
    },
    {
      "mark": {"type": "rect", "opacity": 0},
      "encoding": {
        "x": {"field": "c", "type": "ordinal", "axis": {"orient": "top", "values": [0, 20, 40, 60, 80, 100, 120, 140], "labels": false}},
        "y": {"field": "r", "type": "ordinal", "axis": {"orient": "right", "labels": false}}
      }
    }
  ],
  "resolve": {"axis": {"x": "independent", "y": "independent"}}
}
